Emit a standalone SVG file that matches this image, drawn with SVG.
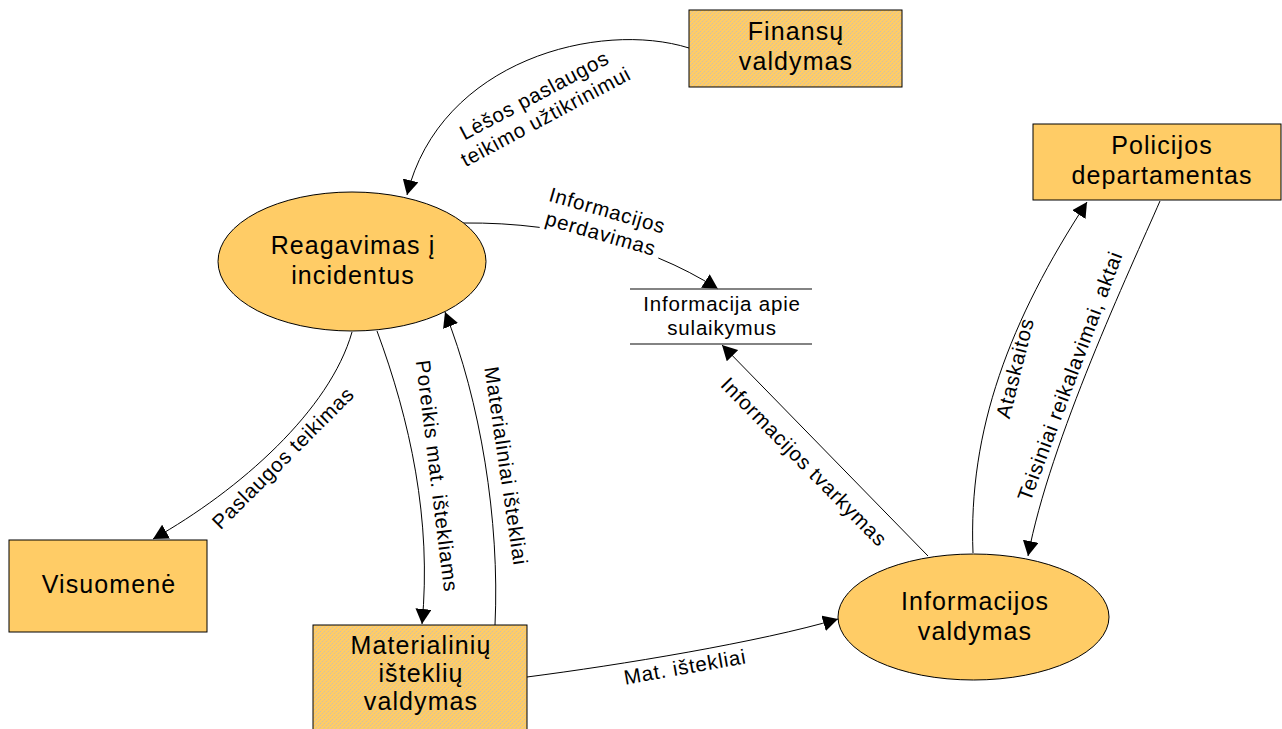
<svg xmlns="http://www.w3.org/2000/svg" width="1282" height="729" viewBox="0 0 1282 729">
  <defs>
    <style>
      .node { fill: #FFCC66; stroke: #000; stroke-width: 1; }
      .hatched { fill: url(#hatch); stroke: #000; stroke-width: 1; }
      .nlabel { font-family: "Liberation Sans", Arial, sans-serif; font-size: 25px; letter-spacing: 1.1px; fill: #000; text-anchor: middle; }
      .elabel { font-family: "Liberation Sans", Arial, sans-serif; font-size: 20.5px; letter-spacing: 0.8px; fill: #000; text-anchor: middle; }
      .edge { fill: none; stroke: #000; stroke-width: 1; }
      .arrow { marker-end: url(#arrowhead); }
      .store { stroke: #5a5a5a; stroke-width: 1.5; }
    </style>
    <pattern id="hatch" patternUnits="userSpaceOnUse" width="4" height="4">
      <rect width="4" height="4" fill="#FFCC66"/>
      <path d="M-1,1 L1,-1 M0,4 L4,0 M3,5 L5,3" stroke="#a7b6da" stroke-width="0.6" stroke-dasharray="1.6 0.9"/>
    </pattern>
    <marker id="arrowhead" markerUnits="userSpaceOnUse" markerWidth="16" markerHeight="16" refX="15" refY="8" orient="auto">
      <path d="M0,0 L15,8 L0,16 z" fill="#000"/>
    </marker>
  </defs>

  <rect width="1282" height="729" fill="#fff"/>

  <!-- connectors -->
  <g id="connectors">
    <g id="e-lesos">
      <path class="edge arrow" d="M689,48 C600,20 440,60 407,195"/>
      <text class="elabel" transform="translate(540,106) rotate(-28)"><tspan x="0" y="-5">Lėšos paslaugos</tspan><tspan x="0" y="19">teikimo užtikrinimui</tspan></text>
    </g>
    <g id="e-perdavimas">
      <path class="edge" d="M463,223 C489,222.7 515,224.2 539.7,227.4"/>
      <path class="edge arrow" d="M658.3,258 C679.6,266.8 699.6,277.2 718,289"/>
      <text class="elabel" transform="translate(604,222) rotate(16)"><tspan x="0" y="-5">Informacijos</tspan><tspan x="0" y="19">perdavimas</tspan></text>
    </g>
    <g id="e-paslaugos">
      <path class="edge arrow" d="M352,332 C330,410 240,490 153,539"/>
      <text class="elabel" transform="translate(283,458) rotate(-45)" y="7">Paslaugos teikimas</text>
    </g>
    <g id="e-poreikis">
      <path class="edge arrow" d="M377,331 C410,420 432,520 422,624"/>
      <text class="elabel" transform="translate(437,476) rotate(83)" y="7">Poreikis mat. ištekliams</text>
    </g>
    <g id="e-materialiniai">
      <path class="edge arrow" d="M495,625 C500,520 480,400 445,312"/>
      <text class="elabel" transform="translate(506,466) rotate(81.5)" y="7">Materialiniai ištekliai</text>
    </g>
    <g id="e-mat">
      <path class="edge arrow" d="M527,677 C620,665 760,642 838,619"/>
      <text class="elabel" transform="translate(685,667) rotate(-10)" y="7">Mat. ištekliai</text>
    </g>
    <g id="e-tvarkymas">
      <path class="edge arrow" d="M928,556 L722,345"/>
      <text class="elabel" transform="translate(804,462) rotate(45.5)" y="7">Informacijos tvarkymas</text>
    </g>
    <g id="e-ataskaitos">
      <path class="edge arrow" d="M973,553 C968,430 1010,320 1087,202"/>
      <text class="elabel" transform="translate(1015,368) rotate(-76)" y="7">Ataskaitos</text>
    </g>
    <g id="e-teisiniai">
      <path class="edge arrow" d="M1160,201 C1130,270 1050,440 1028,556"/>
      <text class="elabel" transform="translate(1070,376) rotate(-69.5)" y="7">Teisiniai reikalavimai, aktai</text>
    </g>
  </g>

  <!-- nodes -->
  <g id="finansu-valdymas">
    <rect class="hatched" x="689" y="10" width="213" height="77"/>
    <text class="nlabel" x="796" y="40">Finansų</text>
    <text class="nlabel" x="796" y="70">valdymas</text>
  </g>

  <g id="policijos-departamentas">
    <rect class="node" x="1033" y="124" width="248" height="76"/>
    <text class="nlabel" x="1162" y="154">Policijos</text>
    <text class="nlabel" x="1162" y="184">departamentas</text>
  </g>

  <g id="reagavimas">
    <ellipse class="node" cx="352" cy="261.5" rx="134" ry="69.5"/>
    <text class="nlabel" x="353" y="254">Reagavimas į</text>
    <text class="nlabel" x="353" y="284">incidentus</text>
  </g>

  <g id="informacija-apie-sulaikymus">
    <line class="store" x1="630" y1="289" x2="812" y2="289"/>
    <line class="store" x1="630" y1="344" x2="812" y2="344"/>
    <text class="elabel" x="722" y="311">Informacija apie</text>
    <text class="elabel" x="722" y="335">sulaikymus</text>
  </g>

  <g id="visuomene">
    <rect class="node" x="9" y="540" width="198" height="92"/>
    <text class="nlabel" x="109" y="593">Visuomenė</text>
  </g>

  <g id="materialiniu-istekliu-valdymas">
    <rect class="hatched" x="313" y="625" width="214" height="120"/>
    <text class="nlabel" x="421" y="654">Materialinių</text>
    <text class="nlabel" x="421" y="682">išteklių</text>
    <text class="nlabel" x="421" y="710">valdymas</text>
  </g>

  <g id="informacijos-valdymas">
    <ellipse class="node" cx="973.5" cy="617" rx="135.5" ry="63"/>
    <text class="nlabel" x="975" y="610">Informacijos</text>
    <text class="nlabel" x="975" y="640">valdymas</text>
  </g>
</svg>
